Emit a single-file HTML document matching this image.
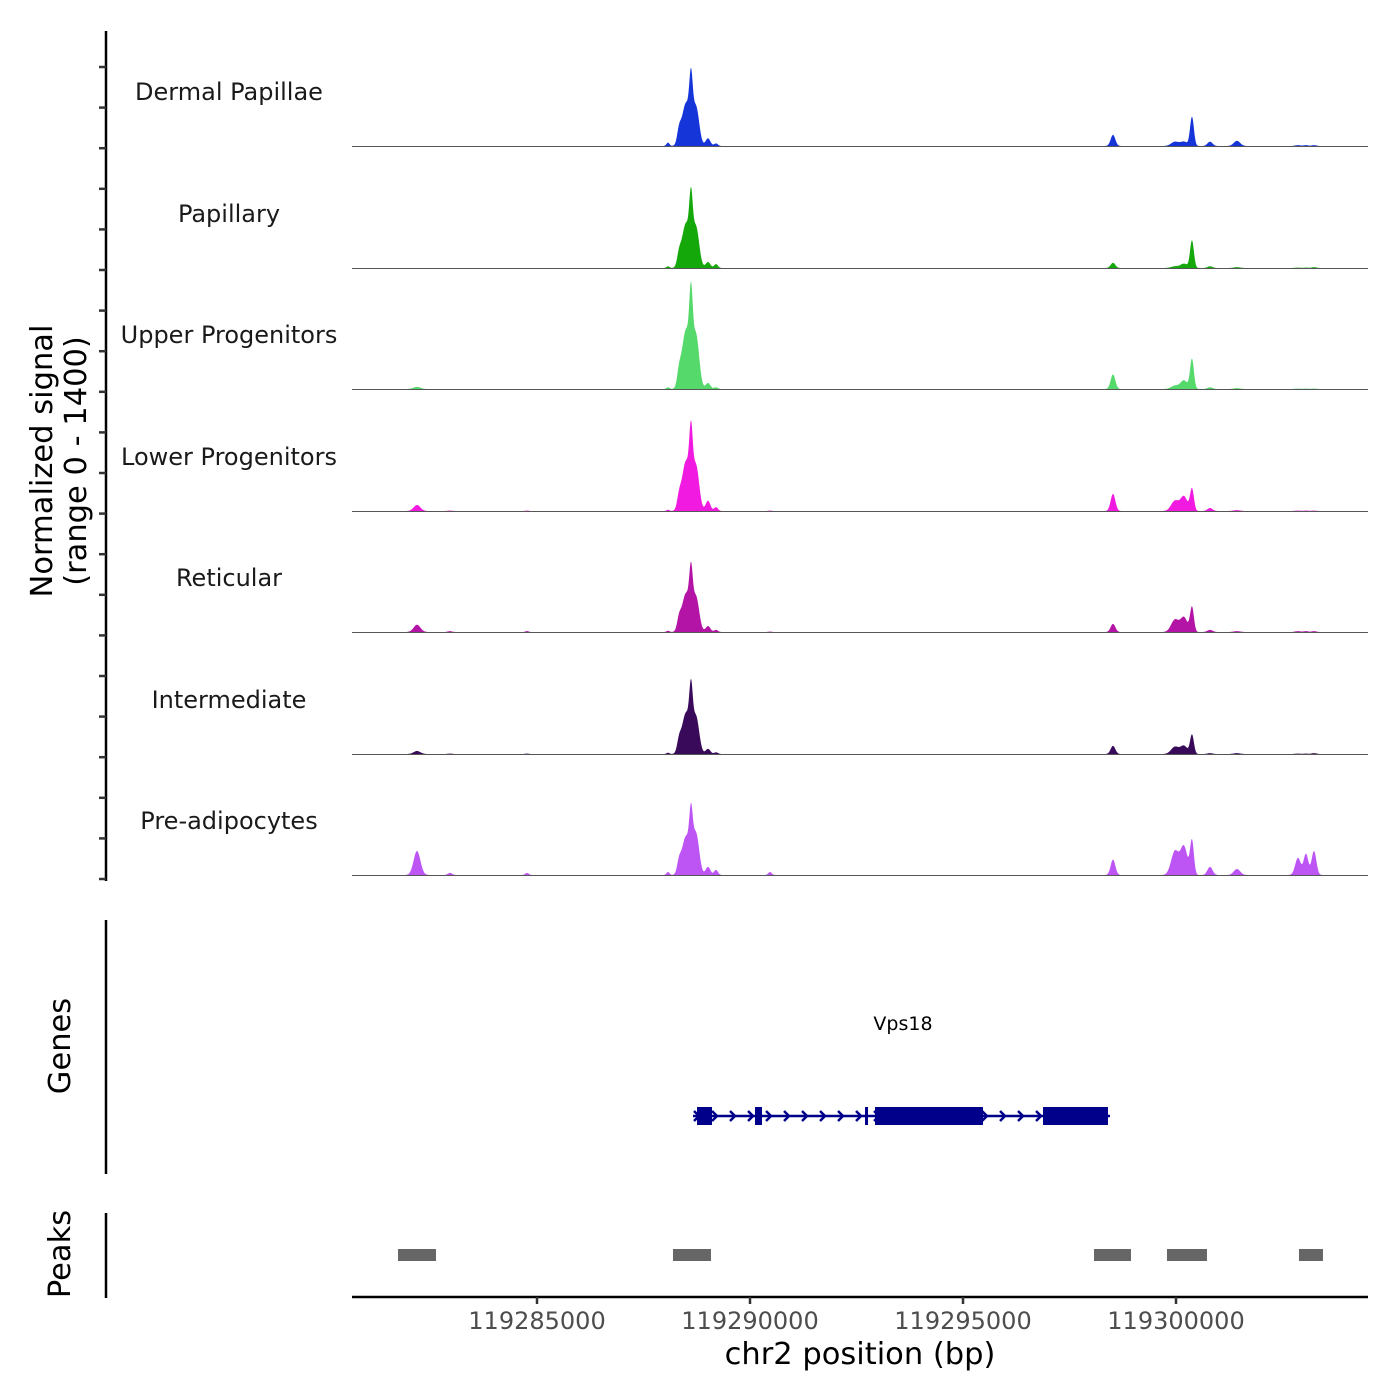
<!DOCTYPE html>
<html><head><meta charset="utf-8"><style>
html,body{margin:0;padding:0;background:#fff;}
svg{display:block;font-family:"DejaVu Sans","Liberation Sans",sans-serif;}
</style></head><body>
<svg id="chart" width="1400" height="1400" viewBox="0 0 1400 1400" xmlns="http://www.w3.org/2000/svg">
<rect width="1400" height="1400" fill="#fff"/>
<g id="tracks"></g>
<g id="axes"></g>
<g id="genes"></g>
<g id="peaks"></g>
</svg>
<script>
const NS="http://www.w3.org/2000/svg";
// ---- data ----
const xStart=119280657, xEnd=119304507;
const xTicks=[119285000,119290000,119295000,119300000];
const trackNames=["Dermal Papillae","Papillary","Upper Progenitors","Lower Progenitors","Reticular","Intermediate","Pre-adipocytes"];
const trackColors=["#1535d8","#14a80b","#55d96b","#f01ae0","#b314a6","#3a0a5a","#bd55f5"];
const peakPos=[119282183,119282957,119284765,119288075,119288333,119288497,119288615,119288732,119289014,119289202,119290469,119298521,119299976,119300187,119300375,119300798,119301431,119302863,119303051,119303239];
const peakSd=[80,50,40,35,45,95,40,75,55,45,40,55,90,80,45,60,75,65,55,55];
const sigDP   =[0,0,0,40,140,500,550,450,90,30,0,130,50,50,340,50,60,10,10,10];
const sigPap  =[0,0,0,20,120,520,570,470,70,45,0,60,20,50,320,20,10,5,5,10];
const sigUpper=[25,0,0,20,145,690,755,620,70,20,0,170,40,100,350,20,10,5,5,5];
const sigLower=[70,5,5,15,120,580,640,520,120,45,5,200,120,170,260,35,10,5,5,5];
const sigRet  =[85,10,10,15,120,450,495,405,70,25,5,95,145,170,290,25,10,10,10,10];
const sigInter=[35,5,5,15,120,480,530,430,60,20,0,95,85,95,225,10,10,5,5,10];
const sigPre  =[280,25,25,35,120,450,495,480,95,60,35,180,280,330,400,95,70,200,245,280];
const trackSignals=[sigDP,sigPap,sigUpper,sigLower,sigRet,sigInter,sigPre];
const peakStarts=[119281737,119288192,119298075,119299788,119302887];
const peakEnds  =[119282629,119289084,119298943,119300727,119303450];
const exonStarts=[119288756,119290117,119292699,119292934,119296878];
const exonEnds  =[119289108,119290281,119292770,119295469,119298403];
const geneStart=119288662, geneEnd=119298450;
// ---- layout ----
const X0=352,X1=1368;
function xs(bp){return X0+(bp-xStart)/(xEnd-xStart)*(X1-X0);}
const baselines=[146,268,389,511,632,754,875];
const yPer=120/1400;
function el(tag,attrs,parent){const e=document.createElementNS(NS,tag);for(const k in attrs)e.setAttribute(k,attrs[k]);parent.appendChild(e);return e;}
const tracks=document.getElementById('tracks');
trackNames.forEach((nm,t)=>{
  const g=el('g',{},tracks);
  
  
  const b=baselines[t];
  let d='M'+X0+','+b;
  for(let px=X0;px<=X1;px+=0.5){
    const bp=xStart+(px-X0)/(X1-X0)*(xEnd-xStart);
    let v=0;
    for(let i=0;i<peakPos.length;i++){const z=(bp-peakPos[i])/peakSd[i];v+=trackSignals[t][i]*Math.exp(-0.5*z*z);}
    d+=' L'+px+','+(b-v*yPer).toFixed(2);
  }
  d+=' L'+X1+','+b+' Z';
  const p=el('path',{d:d,fill:trackColors[t]},g);
  
  
  const bl=el('line',{x1:X0,x2:X1,y1:b+0.5,y2:b+0.5,stroke:'#555','stroke-width':1},g);
  
  
  const lab=el('text',{x:229,y:b-46,'text-anchor':'middle','font-size':24,fill:'#1a1a1a'},g);
  lab.textContent=nm;
  
  
});
const axes=document.getElementById('axes');
el('line',{x1:106,x2:106,y1:31,y2:881,stroke:'#000','stroke-width':2.5},axes);
for(let y=67;y<=880;y+=40.6){el('line',{x1:99,x2:106,y1:y,y2:y,stroke:'#333','stroke-width':2.5},axes);}
el('line',{x1:106,x2:106,y1:920,y2:1174,stroke:'#000','stroke-width':2.5},axes);
el('line',{x1:106,x2:106,y1:1213,y2:1298,stroke:'#000','stroke-width':2.5},axes);
let t1=el('text',{transform:'translate(52,461) rotate(-90)','text-anchor':'middle','font-size':30.5,fill:'#000'},axes);
t1.textContent='Normalized signal';


let t2=el('text',{transform:'translate(86,461) rotate(-90)','text-anchor':'middle','font-size':30.5,fill:'#000'},axes);
t2.textContent='(range 0 - 1400)';


let t3=el('text',{transform:'translate(70,1046) rotate(-90)','text-anchor':'middle','font-size':30.5,fill:'#000'},axes);
t3.textContent='Genes';


let t4=el('text',{transform:'translate(70,1254) rotate(-90)','text-anchor':'middle','font-size':30.5,fill:'#000'},axes);
t4.textContent='Peaks';


el('line',{x1:X0,x2:X1,y1:1297,y2:1297,stroke:'#000','stroke-width':2.5},axes);
xTicks.forEach(v=>{
  const x=xs(v);
  el('line',{x1:x,x2:x,y1:1297,y2:1304,stroke:'#333','stroke-width':2.5},axes);
  const tx=el('text',{x:x,y:1329,'text-anchor':'middle','font-size':24,fill:'#4d4d4d'},axes);
  tx.textContent=String(v);
  
  
});
let xt=el('text',{x:860,y:1364,'text-anchor':'middle','font-size':30.5,fill:'#000'},axes);
xt.textContent='chr2 position (bp)';


// genes
const genes=document.getElementById('genes');
const gy=1116;
const gs=xs(geneStart), ge=xs(geneEnd);
el('line',{x1:gs,x2:ge,y1:gy,y2:gy,stroke:'#00008b','stroke-width':2.5},genes);
for(let x=gs+4;x<ge-4;x+=18){el('path',{d:`M${x-3},${gy-5} L${x+2},${gy} L${x-3},${gy+5}`,fill:'none',stroke:'#00008b','stroke-width':2.5},genes);}
exonStarts.forEach((s,i)=>{
  const r=el('rect',{x:xs(s),y:gy-9,width:xs(exonEnds[i])-xs(s),height:18,fill:'#00008b'},genes);
  
  
});
let gl=el('text',{x:903,y:1030,'text-anchor':'middle','font-size':19,fill:'#000'},genes);
gl.textContent='Vps18';


// peaks
const peaks=document.getElementById('peaks');
peakStarts.forEach((s,i)=>{
  const r=el('rect',{x:xs(s),y:1249,width:xs(peakEnds[i])-xs(s),height:12,fill:'#666'},peaks);
  
  
});
</script>
</body></html>
